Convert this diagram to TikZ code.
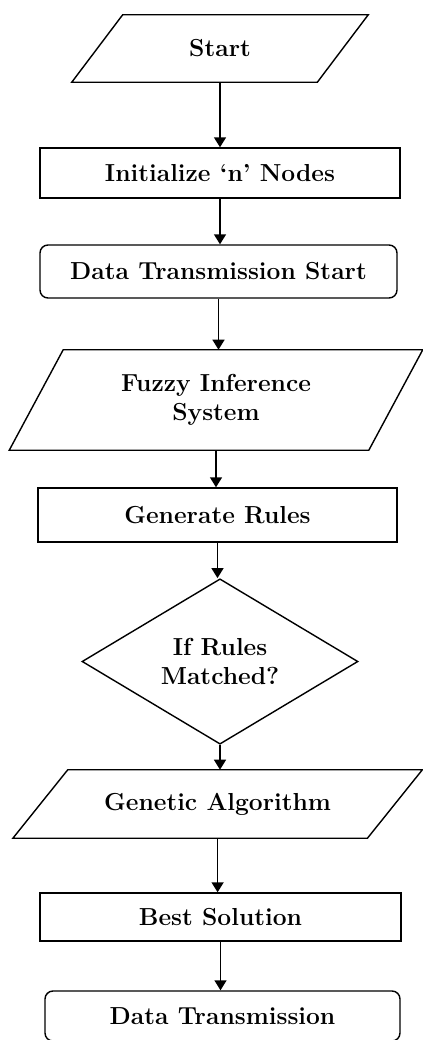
\documentclass[tikz,border=0pt]{standalone}
\usetikzlibrary{shapes.geometric,arrows.meta}
\begin{document}
\begin{tikzpicture}[
  font=\fontsize{17.5}{21}\selectfont\bfseries,
  box/.style={draw,line width=1pt,inner sep=0pt,align=center},
  proc/.style={box,rectangle},
  term/.style={box,rectangle,rounded corners=0.2cm},
  io/.style={rectangle,inner sep=0pt,align=center},
  slant/.style={line width=1pt,line join=miter},
  decision/.style={box,diamond},
  arr/.style={-{Triangle[length=0.25cm,width=0.3cm]},line width=1pt}
]
\useasboundingbox (0,0) rectangle (10.55,-26);

% Flow steps
\node[io,minimum width=7.4cm,minimum height=1.675cm] (start) at (5.5,-1.2125) {Start};
\node[proc,minimum width=9cm,minimum height=1.25cm] (init) at (5.5,-4.325) {Initialize `n' Nodes};
\node[term,minimum width=8.925cm,minimum height=1.325cm] (dts) at (5.4625,-6.7875) {Data Transmission Start};
\node[io,minimum width=10.325cm,minimum height=2.5cm] (fis) at (5.4,-10) {Fuzzy Inference\\System};
\node[proc,minimum width=8.975cm,minimum height=1.35cm] (rules) at (5.4375,-12.875) {Generate Rules};
\node[decision,minimum width=6.9cm,minimum height=3.875cm] (match) at (5.5,-16.5375) {If Rules\\Matched?};
\node[io,minimum width=10.225cm,minimum height=1.7cm] (ga) at (5.44,-20.1) {Genetic Algorithm};
\node[proc,minimum width=9.025cm,minimum height=1.2cm] (best) at (5.5125,-22.925) {Best Solution};
\node[term,minimum width=8.875cm,minimum height=1.25cm] (dt) at (5.5625,-25.4) {Data Transmission};

% Parallelograms round the input/output steps
\draw[slant] (start.south west) -- ([xshift=-1.275cm]start.south east) -- (start.north east) -- ([xshift=1.275cm]start.north west) -- cycle;
\draw[slant] (fis.south west) -- ([xshift=-1.35cm]fis.south east) -- (fis.north east) -- ([xshift=1.35cm]fis.north west) -- cycle;
\draw[slant] (ga.south west) -- ([xshift=-1.375cm]ga.south east) -- (ga.north east) -- ([xshift=1.375cm]ga.north west) -- cycle;

% Connectors
\draw[arr] (start.south) -- (start.south |- init.north);
\draw[arr] (init.south) -- (init.south |- dts.north);
\draw[arr] (dts.south) -- (dts.south |- fis.north);
\draw[arr] (fis.south) -- (fis.south |- rules.north);
\draw[arr] (rules.south) -- (rules.south |- match.north);
\draw[arr] (match.south) -- (match.south |- ga.north);
\draw[arr] (ga.south) -- (ga.south |- best.north);
\draw[arr] (best.south) -- (best.south |- dt.north);
\end{tikzpicture}
\end{document}
